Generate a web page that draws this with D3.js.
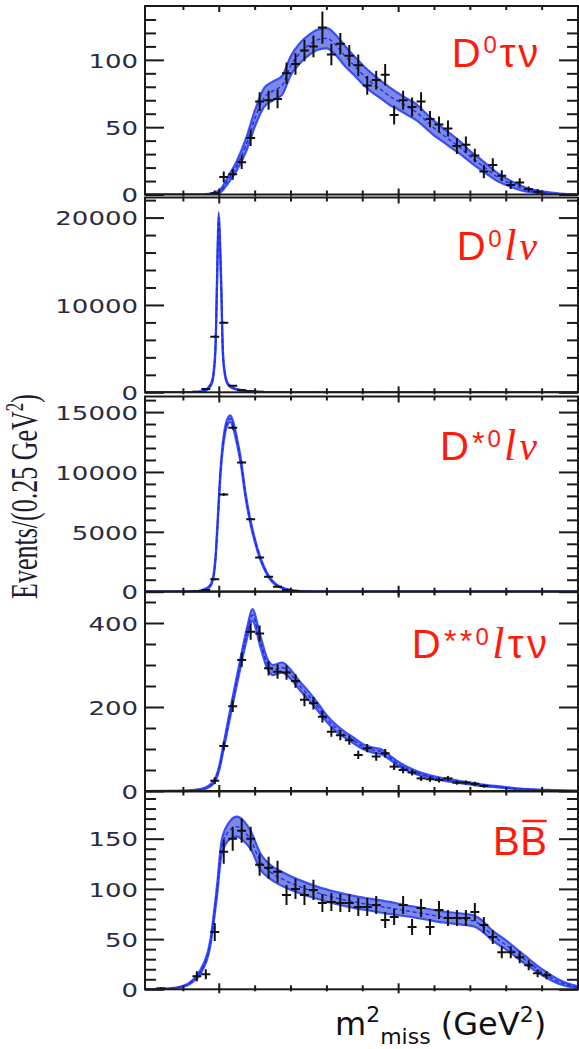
<!DOCTYPE html>
<html>
<head>
<meta charset="utf-8">
<script src="https://cdn.jsdelivr.net/npm/d3@7"></script>
<style>
  html, body { margin: 0; padding: 0; background: #ffffff; }
  svg { display: block; }
</style>
</head>
<body>
<svg id="chart" width="579" height="1049"></svg>
<script>
// ---------------------------------------------------------------------------
// Missing-mass-squared yields, Events / (0.25 GeV^2), with the fitted shapes
// ---------------------------------------------------------------------------
const binHalfWidth = 0.125;          // GeV^2, half of a 0.25 GeV^2 bin

// D0 tau nu
const d0TauBins   = [-0.125, 0.125, 0.375, 0.625, 0.875, 1.125, 1.375, 1.625, 1.875, 2.125, 2.375, 2.625, 2.875, 3.125, 3.375, 3.625, 3.875, 4.125, 4.375, 4.625, 4.875, 5.125, 5.375, 5.625, 5.875, 6.125, 6.375, 6.625, 6.875, 7.125, 7.375, 7.625, 7.875, 8.125, 8.375, 8.625, 8.875];
const d0TauCounts = [1, 13, 15, 24, 42, 69, 70, 71, 90, 97, 107, 110, 124, 104, 112, 103, 96, 81, 85, 89, 59, 70, 65, 69, 56, 52, 49, 36, 37, 29, 17, 22, 14, 7, 9, 4, 2];
const d0TauErrors = [2, 4, 4, 5, 6, 7, 7, 7, 8, 8, 8, 8, 12, 8, 8, 8, 8, 7, 7, 8, 7, 7, 7, 7, 6, 6, 6, 6, 6, 5, 5, 5, 4, 3, 3, 2, 2];
const d0TauFitX    = [-2.07, -1, -0.5, -0.25, 0, 0.25, 0.5, 0.75, 1.0, 1.25, 1.5, 1.75, 2.0, 2.25, 2.5, 2.75, 3.0, 3.25, 3.5, 3.75, 4.0, 4.25, 4.5, 4.75, 5.0, 5.25, 5.5, 5.75, 6.0, 6.25, 6.5, 6.75, 7.0, 7.25, 7.5, 7.75, 8.0, 8.25, 8.5, 8.75, 9.0, 9.5, 10];
const d0TauFitY    = [0, 0, 0, 0.3, 2, 11, 22, 37, 57, 72, 77, 81, 96, 105, 111, 115, 116, 111, 103, 96, 89, 83, 78, 73, 69, 65, 61, 55, 49, 44, 39, 34, 28, 23, 18, 13, 9.5, 6.5, 4, 2.5, 1.5, 0.3, 0];
const d0TauFitBand = [0, 0, 0, 0.3, 1, 2.5, 3.5, 5, 6, 7, 7, 7, 7, 7.5, 7.5, 7.5, 7.5, 7.5, 7.5, 7, 7, 7, 6.5, 6.5, 6, 6, 6, 5.5, 5.5, 5, 5, 4.5, 4, 4, 3.5, 3, 2.5, 2, 1.5, 1, 0.8, 0.3, 0];

// D0 l nu
const d0LepBins   = [-0.625, -0.375, -0.125, 0.125, 0.375, 0.625, 0.875, 1.125];
const d0LepCounts = [60, 380, 6370, 7970, 760, 230, 110, 50];
const d0LepErrors = [30, 60, 100, 100, 60, 40, 30, 20];
const d0LepFitX    = [-2.07, -1, -0.6, -0.4, -0.3, -0.2, -0.11, -0.06, -0.02, 0.05, 0.1, 0.15, 0.21, 0.3, 0.45, 0.6, 0.8, 1.0, 1.5, 2, 10];
const d0LepFitY    = [0, 0, 30, 200, 500, 1200, 4650, 13000, 20000, 13000, 4650, 2300, 1200, 700, 380, 250, 120, 50, 10, 0, 0];
const d0LepFitBand = [0, 0, 10, 40, 80, 150, 300, 500, 600, 500, 300, 150, 80, 60, 40, 30, 20, 10, 5, 0, 0];

// D*0 l nu
const dStarLepBins   = [-0.625, -0.375, -0.125, 0.125, 0.375, 0.625, 0.875, 1.125, 1.375, 1.625, 1.875, 2.125];
const dStarLepCounts = [20, 150, 1030, 8120, 13700, 10780, 6060, 2860, 1250, 420, 150, 50];
const dStarLepErrors = [20, 40, 80, 120, 150, 130, 100, 70, 50, 30, 20, 10];
const dStarLepFitX    = [-2.07, -1, -0.6, -0.4, -0.25, -0.2, -0.15, -0.1, -0.05, 0, 0.05, 0.1, 0.17, 0.25, 0.31, 0.4, 0.5, 0.6, 0.73, 0.85, 1.0, 1.13, 1.25, 1.38, 1.6, 1.8, 2.0, 2.3, 2.6, 3, 10];
const dStarLepFitY    = [0, 5, 50, 200, 500, 830, 1500, 3000, 5500, 8300, 10600, 12200, 13600, 14300, 14450, 13800, 12500, 10900, 8100, 6100, 4200, 2900, 2000, 1250, 550, 280, 120, 40, 10, 0, 0];
const dStarLepFitBand = [0, 0, 10, 30, 60, 80, 120, 160, 200, 230, 250, 260, 270, 280, 280, 270, 250, 230, 200, 170, 140, 110, 90, 70, 40, 25, 15, 8, 3, 0, 0];

// D**0 l/tau nu
const dSSBins   = [-0.125, 0.125, 0.375, 0.625, 0.875, 1.125, 1.375, 1.625, 1.875, 2.125, 2.375, 2.625, 2.875, 3.125, 3.375, 3.625, 3.875, 4.125, 4.375, 4.625, 4.875, 5.125, 5.375, 5.625, 5.875, 6.125, 6.375, 6.625, 6.875, 7.125, 7.375];
const dSSCounts = [24.5, 107, 202, 312, 379, 375, 292, 284, 282, 262, 217, 209, 177, 141, 133, 121, 86, 102, 82, 90, 58, 50, 44, 30, 28, 26, 30, 20, 20, 17, 12];
const dSSErrors = [8, 10, 14, 17, 19, 19, 17, 17, 17, 16, 15, 15, 14, 12, 12, 11, 10, 10, 10, 10, 8, 8, 7, 6, 6, 6, 6, 5, 5, 5, 4];
const dSSFitX    = [-2.07, -1, -0.5, -0.17, 0, 0.12, 0.35, 0.59, 0.8, 0.92, 1.15, 1.33, 1.5, 1.75, 2.0, 2.25, 2.5, 2.75, 3.0, 3.25, 3.5, 3.75, 4.0, 4.25, 4.5, 4.75, 5.0, 5.43, 5.9, 6.36, 6.82, 7.29, 7.76, 8.22, 9.15, 10];
const dSSFitY    = [0, 0.5, 4, 19, 55, 105, 205, 304, 385, 419, 355, 305, 288, 294, 277, 250, 226, 200, 172, 150, 134, 120, 106, 98, 94, 80, 64, 46, 34, 26, 20, 14, 10, 6, 2, 0.5];
const dSSFitBand = [0, 0, 1, 3, 5, 7, 9, 11, 13, 14, 13, 12, 12, 12, 11, 10, 10, 9, 8, 8, 7, 7, 6, 6, 6, 5, 5, 4, 3, 3, 2.5, 2, 1.5, 1, 0.5, 0];

// B Bbar
const bbBins   = [-1.625, -0.625, -0.375, -0.125, 0.125, 0.375, 0.625, 0.875, 1.125, 1.375, 1.625, 1.875, 2.125, 2.375, 2.625, 2.875, 3.125, 3.375, 3.625, 3.875, 4.125, 4.375, 4.625, 4.875, 5.125, 5.375, 5.625, 5.875, 6.125, 6.375, 6.625, 6.875, 7.125, 7.375, 7.625, 7.875, 8.125, 8.375, 8.625, 8.875, 9.125];
const bbCounts = [1, 13, 15, 57, 137, 150, 158, 150, 124, 121, 117, 94, 100, 94, 99, 86, 87, 86, 86, 82, 82, 84, 69, 72, 84, 62, 81, 62, 79, 71, 71, 71, 77, 64, 52, 37, 37, 32, 24, 16, 14];
const bbErrors = [1, 5, 5, 9, 12, 12, 12, 12, 11, 11, 11, 10, 10, 10, 10, 9, 9, 9, 9, 9, 9, 9, 8, 8, 9, 8, 9, 8, 9, 8, 8, 8, 9, 8, 7, 6, 6, 6, 5, 4, 4];
const bbFitX    = [-2.07, -1.5, -1, -0.75, -0.53, -0.25, -0.06, 0.07, 0.31, 0.49, 0.7, 0.87, 1.15, 1.42, 1.8, 2.26, 2.75, 3.25, 3.75, 4.25, 4.75, 5.25, 5.75, 6.25, 6.75, 7.1, 7.3, 7.6, 8.0, 8.5, 9.0, 9.5, 10];
const bbFitY    = [0, 0.5, 3, 8, 17, 46, 99, 142, 159, 162, 157, 149, 127, 117, 109, 102, 96, 91, 87, 84, 81, 78, 75, 72, 70, 68, 64, 54, 44, 30, 17, 7, 2];
const bbFitBand = [0, 0, 0.5, 1, 2, 3, 5, 7, 9, 10, 10, 9, 8, 7, 7, 6.5, 6, 6, 6, 6, 6, 5.5, 5.5, 5.5, 5.5, 5.5, 5.5, 5, 4.5, 4, 3, 2, 1];

// Axis tick values
const xTickValues  = [-1, 0, 1, 2, 3, 4, 5, 6, 7, 8, 9];
const xMajorValues = [0, 5];
const yMaxima      = [140, 22300, 16300, 475, 197];
const yMajorTicks  = [[0, 50, 100], [0, 10000, 20000], [0, 5000, 10000, 15000], [0, 200, 400], [0, 50, 100, 150]];
const yMinorSteps  = [10, 2000, 1000, 50, 10];

// ---------------------------------------------------------------------------
// Layout
// ---------------------------------------------------------------------------
const frameLeft = 145, frameRight = 578;
const panelTop    = [6, 197.5, 396.5, 591.5, 791.5];
const panelBottom = [194.5, 392.3, 591.7, 791, 989.3];

const components = [
  { bins: d0TauBins,    counts: d0TauCounts,    errors: d0TauErrors,    fitX: d0TauFitX,    fitY: d0TauFitY,    band: d0TauFitBand },
  { bins: d0LepBins,    counts: d0LepCounts,    errors: d0LepErrors,    fitX: d0LepFitX,    fitY: d0LepFitY,    band: d0LepFitBand },
  { bins: dStarLepBins, counts: dStarLepCounts, errors: dStarLepErrors, fitX: dStarLepFitX, fitY: dStarLepFitY, band: dStarLepFitBand },
  { bins: dSSBins,      counts: dSSCounts,      errors: dSSErrors,      fitX: dSSFitX,      fitY: dSSFitY,      band: dSSFitBand },
  { bins: bbBins,       counts: bbCounts,       errors: bbErrors,       fitX: bbFitX,       fitY: bbFitY,       band: bbFitBand }
];

const svg = d3.select("#chart");
const defs = svg.append("defs");
defs.append("filter")
    .attr("id", "soft")
    .attr("filterUnits", "userSpaceOnUse")
    .attr("x", 0).attr("y", 0).attr("width", 579).attr("height", 1049)
  .append("feGaussianBlur")
    .attr("stdDeviation", 0.6);

const x = d3.scaleLinear().domain([-2.07, 10]).range([frameLeft, frameRight]);

const frameColor = "#1a1a1a";
const tickLabelColor = "#2b2b3f";

components.forEach((c, i) => {
  const top = panelTop[i], bottom = panelBottom[i];
  const y = d3.scaleLinear().domain([0, yMaxima[i]]).range([bottom, top]);
  const g = svg.append("g").attr("class", "panel");

  const clipId = "plot-clip-" + i;
  defs.append("clipPath").attr("id", clipId)
    .append("rect")
      .attr("x", frameLeft).attr("y", top)
      .attr("width", frameRight - frameLeft).attr("height", bottom - top);

  const plot = g.append("g").attr("clip-path", `url(#${clipId})`);

  // fitted shape with its uncertainty band
  const fit = c.fitX.map((fx, k) => ({ x: fx, y: c.fitY[k], e: c.band[k] }));
  const bandArea = d3.area()
      .x(d => x(d.x))
      .y0(d => y(Math.max(0, d.y - d.e)))
      .y1(d => y(d.y + d.e))
      .curve(d3.curveMonotoneX);
  const lowEdge = d3.line().x(d => x(d.x)).y(d => y(Math.max(0, d.y - d.e))).curve(d3.curveMonotoneX);
  const highEdge = d3.line().x(d => x(d.x)).y(d => y(d.y + d.e)).curve(d3.curveMonotoneX);
  const centre = d3.line().x(d => x(d.x)).y(d => y(d.y)).curve(d3.curveMonotoneX);

  const bandG = plot.append("g").attr("filter", "url(#soft)");
  bandG.append("path").attr("d", bandArea(fit))
      .attr("fill", "#6b7ae6").attr("fill-opacity", 0.88);
  [lowEdge, highEdge].forEach(edge => {
    bandG.append("path").attr("d", edge(fit))
        .attr("fill", "none")
        .attr("stroke", "#2f43f2").attr("stroke-width", 2.2).attr("stroke-opacity", 0.9);
  });
  plot.append("path").attr("d", centre(fit))
      .attr("fill", "none")
      .attr("stroke", "#1a2aff").attr("stroke-width", 1.4)
      .attr("stroke-dasharray", "4,2.5");

  // binned data with error bars
  const pts = c.bins.map((b, k) => ({ x: b, v: c.counts[k], e: c.errors[k] }));
  const marks = plot.append("g").attr("stroke", "#111").attr("stroke-width", 2);
  marks.selectAll("line.vbar").data(pts).join("line").attr("class", "vbar")
      .attr("x1", d => x(d.x)).attr("x2", d => x(d.x))
      .attr("y1", d => y(Math.max(0, d.v - d.e))).attr("y2", d => y(d.v + d.e));
  marks.selectAll("line.hbar").data(pts).join("line").attr("class", "hbar")
      .attr("x1", d => x(d.x - binHalfWidth)).attr("x2", d => x(d.x + binHalfWidth))
      .attr("y1", d => y(d.v)).attr("y2", d => y(d.v));

  // y axes: major/minor ticks pointing inward on both sides
  const majors = yMajorTicks[i];
  const minors = d3.range(0, yMaxima[i], yMinorSteps[i]).filter(v => !majors.includes(v));

  const styleAxis = sel => {
    sel.select(".domain").remove();
    sel.selectAll(".tick line").attr("stroke", frameColor).attr("stroke-width", 2);
  };

  g.append("g").attr("transform", `translate(${frameLeft},0)`)
      .call(d3.axisLeft(y).tickValues(minors).tickSize(-11).tickFormat(""))
      .call(styleAxis);
  const leftMajor = g.append("g").attr("transform", `translate(${frameLeft},0)`)
      .call(d3.axisLeft(y).tickValues(majors).tickSize(-19).tickFormat(d3.format("d")))
      .call(styleAxis);
  leftMajor.selectAll(".tick text")
      .attr("x", -7 / 1.3)
      .attr("dy", "0.36em")
      .attr("transform", "scale(1.3,1)")
      .attr("fill", tickLabelColor)
      .style("font-family", "'DejaVu Sans', Verdana, sans-serif")
      .style("font-size", "20px");

  g.append("g").attr("transform", `translate(${frameRight},0)`)
      .call(d3.axisRight(y).tickValues(minors).tickSize(-11).tickFormat(""))
      .call(styleAxis);
  g.append("g").attr("transform", `translate(${frameRight},0)`)
      .call(d3.axisRight(y).tickValues(majors).tickSize(-19).tickFormat(""))
      .call(styleAxis);

  // x ticks on the top and bottom edges of the frame
  const xt = g.append("g").attr("stroke", frameColor).attr("stroke-width", 2);
  xTickValues.forEach(v => {
    const major = xMajorValues.includes(v);
    xt.append("line")
      .attr("x1", x(v)).attr("x2", x(v))
      .attr("y1", top).attr("y2", top + (major ? 6 : 4));
    xt.append("line")
      .attr("x1", x(v)).attr("x2", x(v))
      .attr("y1", bottom - (major ? 6 : 4)).attr("y2", bottom + (major ? 4 : 2));
  });

  // frame
  g.append("rect")
      .attr("x", frameLeft).attr("y", top)
      .attr("width", frameRight - frameLeft).attr("height", bottom - top)
      .attr("fill", "none").attr("stroke", frameColor).attr("stroke-width", 2);
});

// ---------------------------------------------------------------------------
// Component names (left edge, right edge, baseline)
// ---------------------------------------------------------------------------
const SANS = "'Liberation Sans', Arial, sans-serif";
const SERIF = "'Liberation Serif', 'Times New Roman', serif";
const red = "#ff1a0a";

function componentLabel(xStart, xEnd, baseline, parts) {
  const t = svg.append("text")
      .attr("x", xStart).attr("y", baseline)
      .attr("fill", red);
  let nChars = 0;
  parts.forEach(p => {
    t.append("tspan")
      .attr("dy", p.dy || 0)
      .style("font-family", p.serif ? SERIF : SANS)
      .style("font-style", p.italic ? "italic" : "normal")
      .style("font-size", p.size + "px")
      .text(p.text);
    nChars += [...p.text].length;
  });
  // spread the glyphs so the name spans its slot
  const natural = t.node().getComputedTextLength();
  const spacing = nChars > 1 ? (xEnd - xStart - natural) / (nChars - 1) : 0;
  t.style("letter-spacing", Math.max(0, spacing) + "px");
  return t;
}

const supShift = 13.5;
componentLabel(451.7, 538.3, 66.7, [
  { text: "D", size: 40 },
  { text: "0", size: 24, dy: -supShift },
  { text: "τν", size: 40, dy: supShift }
]);
componentLabel(456.7, 537, 260, [
  { text: "D", size: 40 },
  { text: "0", size: 24, dy: -supShift },
  { text: "l", size: 44, serif: true, italic: true, dy: supShift },
  { text: "ν", size: 40, serif: true, italic: true }
]);
componentLabel(440, 537, 460, [
  { text: "D", size: 40 },
  { text: "*", size: 32, dy: -6 },
  { text: "0", size: 24, dy: -(supShift - 6) },
  { text: "l", size: 44, serif: true, italic: true, dy: supShift },
  { text: "ν", size: 40, serif: true, italic: true }
]);
componentLabel(411.7, 547, 658, [
  { text: "D", size: 40 },
  { text: "**", size: 32, dy: -6 },
  { text: "0", size: 24, dy: -(supShift - 6) },
  { text: "l", size: 44, serif: true, italic: true, dy: supShift },
  { text: "τν", size: 40 }
]);
const bbLabel = componentLabel(493, 547, 855, [{ text: "BB", size: 40 }]);
{
  const node = bbLabel.node();
  const x0 = node.getStartPositionOfChar(1).x;
  const x1 = node.getEndPositionOfChar(1).x;
  svg.append("line")
    .attr("x1", x0 + 2).attr("x2", x1 - 1)
    .attr("y1", 855 - 34).attr("y2", 855 - 34)
    .attr("stroke", red).attr("stroke-width", 2.5);
}

// ---------------------------------------------------------------------------
// Axis titles
// ---------------------------------------------------------------------------
const xTitle = svg.append("text")
    .attr("x", 335).attr("y", 1035)
    .attr("fill", "#111")
    .style("font-family", "'DejaVu Sans', Verdana, sans-serif");
[
  { text: "m", size: 32, dy: 0 },
  { text: "2", size: 22, dy: -13 },
  { text: "miss", size: 22, dy: 22 },
  { text: "\u00a0(GeV", size: 32, dy: -9 },
  { text: "2", size: 22, dy: -13 },
  { text: ")", size: 32, dy: 13 }
].forEach(p => xTitle.append("tspan").attr("dy", p.dy).style("font-size", p.size + "px").text(p.text));

const yTitle = svg.append("text")
    .attr("transform", "translate(37,496.5) rotate(-90) scale(1,1.45)")
    .attr("text-anchor", "middle")
    .attr("fill", "#1c1c30")
    .style("font-family", SERIF)
    .style("font-size", "26px");
yTitle.append("tspan").text("Events/(0.25 GeV");
yTitle.append("tspan").attr("dy", -10).style("font-size", "17px").text("2");
yTitle.append("tspan").attr("dy", 10).text(")");
</script>
</body>
</html>
